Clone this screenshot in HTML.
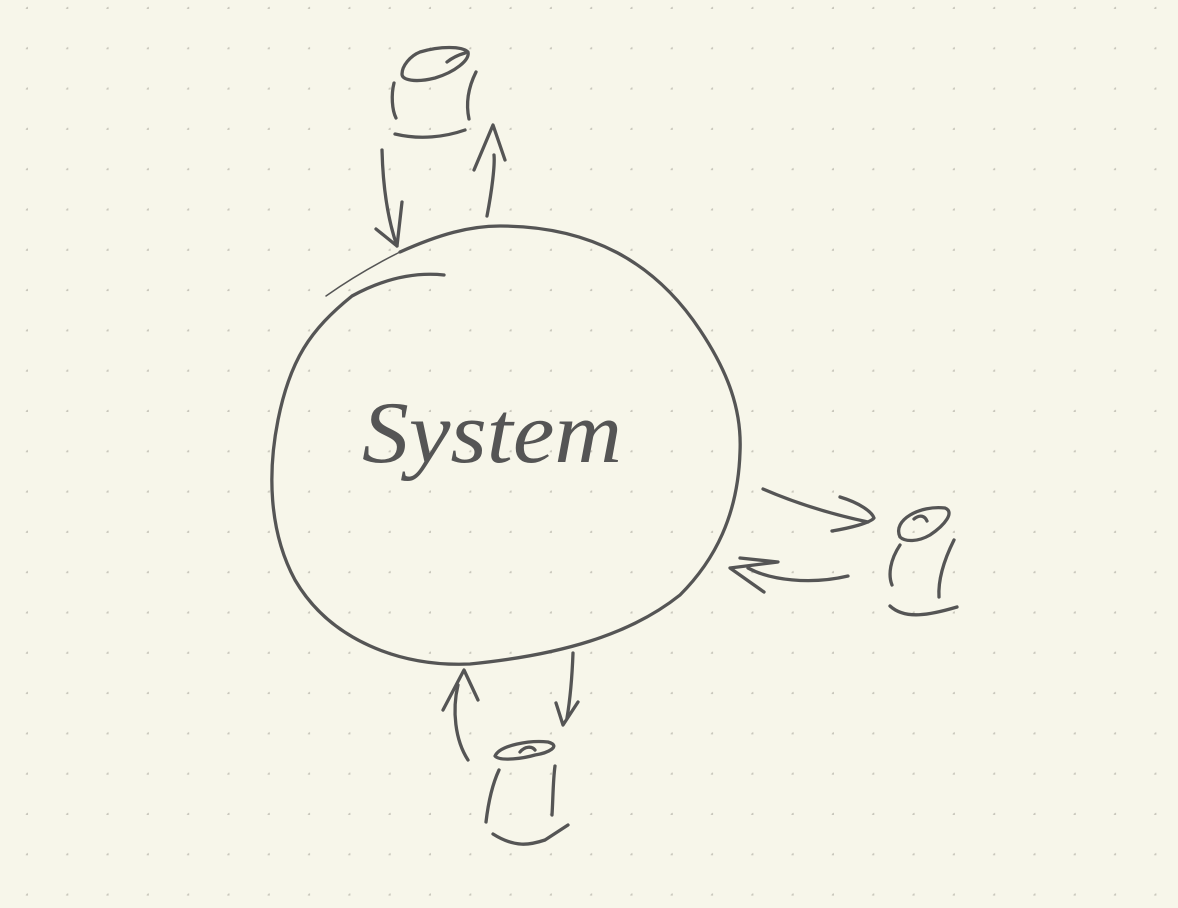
<!DOCTYPE html>
<html><head><meta charset="utf-8"><style>
html,body{margin:0;padding:0;background:#f7f6ea;}
svg{display:block;}
</style></head><body>
<svg width="1178" height="908" viewBox="0 0 1178 908" xmlns="http://www.w3.org/2000/svg">
<defs>
<pattern id="dots" x="-12.3" y="-31.3" width="40.3" height="40.3" patternUnits="userSpaceOnUse">
<circle cx="40.3" cy="40.3" r="2.3" fill="#c9c7bc"/>
</pattern>
</defs>
<rect width="1178" height="908" fill="#f7f6ea"/>
<rect width="1178" height="908" fill="url(#dots)"/>
<g fill="none" stroke="#555" stroke-width="3.3" stroke-linecap="round" stroke-linejoin="round">
<!-- main circle -->
<path stroke-width="1.5" d="M326,296 Q360,272 400,252"/>
<path d="M400,252 C440,234 470,226 500,226 C590,226 655,262 700,330 C728,372 742,410 740,452 C738,515 715,560 680,595 C630,635 560,655 470,664 C400,667 330,640 295,580 C268,530 268,470 278,420 C290,360 310,330 352,296 C385,278 415,272 444,275"/>
<!-- top cylinder -->
<path d="M420,52 C440,46 462,46 468,52 C470,60 455,72 435,78 C415,83 402,80 402,74 C402,66 410,56 420,52 Z"/>
<path d="M447,62 C452,58 458,55 465,53"/>
<path d="M394,83 C391,95 392,110 396,118"/>
<path d="M476,72 C467,90 466,105 469,119"/>
<path d="M395,134 C420,140 445,137 465,130"/>
<path d="M382,150 C383,190 388,220 397,246"/>
<path d="M376,229 L397,246 L402,202"/>
<path d="M487,216 C492,190 495,165 494,155"/>
<path d="M474,170 L493,125 L505,160"/>
<!-- right cylinder -->
<path d="M900,537 C892,520 920,505 945,508 C955,512 945,525 930,535 C918,542 905,542 900,537 Z"/>
<path d="M914,519 C920,514 925,516 927,521"/>
<path d="M900,545 C890,560 888,575 892,585"/>
<path d="M954,540 C944,560 938,580 939,597"/>
<path d="M890,606 C905,620 930,615 957,607"/>
<path d="M763,489 C800,505 835,515 868,522"/>
<path d="M840,497 C860,503 872,512 874,518 C870,523 850,528 832,531"/>
<path d="M848,576 C810,585 770,580 748,568"/>
<path d="M740,558 L778,562 L730,568 L764,592"/>
<!-- bottom cylinder -->
<path d="M495,756 C500,745 530,740 548,742 C562,746 548,753 535,755 C525,758 500,762 495,756 Z"/>
<path d="M520,752 C525,746 532,746 535,750"/>
<path d="M499,770 C492,785 488,805 486,822"/>
<path d="M555,766 C553,780 553,800 552,815"/>
<path d="M493,834 C515,848 530,845 545,840 L568,825"/>
<path d="M468,760 C455,740 452,710 458,685"/>
<path d="M443,710 L464,670 L478,700"/>
<path d="M573,653 C572,680 570,700 567,718"/>
<path d="M556,703 L563,725 L578,702"/>
</g>
<text x="362" y="462" font-family="Liberation Serif, serif" font-style="italic" font-size="88" fill="#555" textLength="260" lengthAdjust="spacingAndGlyphs">System</text>
</svg>
</body></html>
